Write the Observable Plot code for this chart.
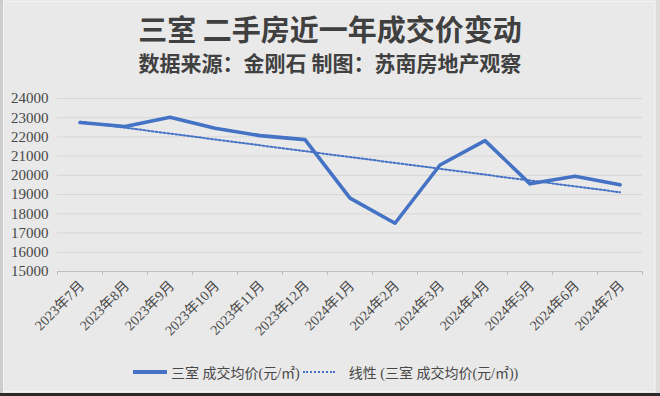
<!DOCTYPE html>
<html>
<head>
<meta charset="utf-8">
<script src="https://cdn.jsdelivr.net/npm/d3@7"></script>
<script src="https://cdn.jsdelivr.net/npm/@observablehq/plot@0.6"></script>
<style>
  html, body { margin: 0; padding: 0; }
  body { width: 660px; height: 396px; background: #e9e9e9; overflow: hidden; position: relative;
         font-family: "Liberation Serif", "Noto Sans CJK SC", serif; }
  #frame { position: absolute; left: 3px; top: 1px; width: 652px; height: 391px;
           border: 1px solid #f3f3f3; box-sizing: border-box; }
  #edgeL { position: absolute; left: 0; top: 0; width: 3px; height: 396px; background: #cdcdcd; }
  #edgeR { position: absolute; right: 0; top: 0; width: 4px; height: 396px; background: #dcdcdc; }
  #edgeB { position: absolute; left: 0; bottom: 0; width: 660px; height: 3px; background: #2b2b2b; }
  #title { position: absolute; left: 0; top: 9px; width: 660px; text-align: center;
           font-family: "Noto Sans CJK SC", sans-serif; font-weight: 700; font-size: 29px;
           color: #404040; line-height: 38px; }
  #subtitle { position: absolute; left: 0; top: 47px; width: 660px; text-align: center;
           font-family: "Noto Sans CJK SC", sans-serif; font-weight: 700; font-size: 21px;
           color: #404040; line-height: 30px; }
  #chart { position: absolute; left: 0; top: 85px; }
  #legend { position: absolute; left: 133px; top: 361px; height: 22px; display: flex; align-items: center;
            font-size: 14px; color: #484848; white-space: nowrap; }
  .sw { display: inline-block; width: 34px; height: 0; }
  .sw.solid { border-top: 4px solid #4472C4; margin-right: 4px; }
  .sw.dot { border-top: 2px dotted #4472C4; width: 32px; margin: 0 14px 0 3px; }
</style>
</head>
<body>
<div id="edgeL"></div><div id="edgeR"></div><div id="edgeB"></div>
<div id="frame"></div>
<div id="title">三室 二手房近一年成交价变动</div>
<div id="subtitle">数据来源：金刚石 制图：苏南房地产观察</div>
<div id="chart"></div>
<div id="legend">
  <span class="sw solid"></span><span>三室 成交均价(元/㎡)</span>
  <span class="sw dot"></span><span>线性 (三室 成交均价(元/㎡))</span>
</div>
<script>
const months = ["2023年7月","2023年8月","2023年9月","2023年10月","2023年11月","2023年12月",
                "2024年1月","2024年2月","2024年3月","2024年4月","2024年5月","2024年6月","2024年7月"];
const prices = [22750, 22540, 23030, 22450, 22070, 21860, 18820, 17510, 20540, 21810, 19560, 19960, 19510];
const yTicks = [15000, 16000, 17000, 18000, 19000, 20000, 21000, 22000, 23000, 24000];

const data = months.map((m, i) => ({month: m, idx: i, price: prices[i]}));
const centers = months.map((m, i) => i);
const bounds = d3.range(months.length + 1).map(i => i - 0.5);

const blue = "#4472C4";
const txt = "#484848";
const font = "Liberation Serif, Noto Sans CJK SC, serif";

const chart = Plot.plot({
  width: 660,
  height: 265,
  marginTop: 13,
  marginBottom: 79,
  marginLeft: 57,
  marginRight: 18,
  style: {background: "transparent", fontFamily: font, overflow: "visible"},
  x: {type: "linear", domain: [-0.5, months.length - 0.5], label: null},
  y: {domain: [15000, 24000], label: null},
  marks: [
    Plot.gridY(yTicks.slice(1), {stroke: "#d6d6d6", strokeOpacity: 1, strokeWidth: 1}),
    Plot.ruleY([15000], {stroke: "#bfbfbf", strokeWidth: 1}),
    Plot.axisY(yTicks, {tickSize: 0, tickPadding: 9, fontSize: 15, fill: txt, label: null,
                        tickFormat: d => String(d)}),
    Plot.axisX(bounds, {tickSize: 4, stroke: "#bfbfbf", tickFormat: () => "", label: null}),
    Plot.axisX(centers, {tickSize: 0, tickPadding: 12, tickRotate: -45, fontSize: 14, fill: txt,
                         tickFormat: i => months[i], label: null, dx: 2}),
    Plot.linearRegressionY(data, {x: "idx", y: "price", ci: 0, stroke: blue, strokeWidth: 2,
                                  strokeDasharray: "2,2"}),
    Plot.line(data, {x: "idx", y: "price", stroke: blue, strokeWidth: 3.6,
                     strokeLinejoin: "round", strokeLinecap: "round"})
  ]
});
document.getElementById("chart").appendChild(chart);
</script>
</body>
</html>
